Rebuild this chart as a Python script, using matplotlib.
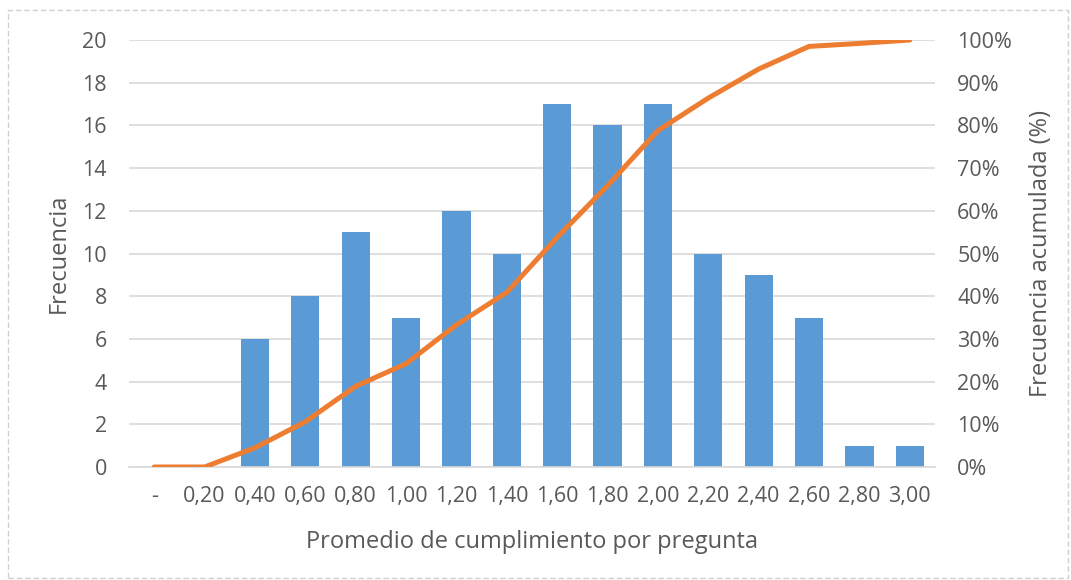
import numpy as np
import matplotlib.pyplot as plt
from matplotlib.patches import Rectangle
from matplotlib.ticker import FuncFormatter

# data
categories = ['-', '0,20', '0,40', '0,60', '0,80', '1,00', '1,20', '1,40',
              '1,60', '1,80', '2,00', '2,20', '2,40', '2,60', '2,80', '3,00']
frecuencia = [0, 0, 6, 8, 11, 7, 12, 10, 17, 16, 17, 10, 9, 7, 1, 1]
acumulada = [0.0, 0.0, 4.5, 10.6, 18.9, 24.2, 33.3, 40.9,
             53.8, 65.9, 78.8, 86.4, 93.2, 98.5, 99.2, 100.0]

bar_color = '#5B9BD5'
line_color = '#ED7D31'
text_color = '#595959'
grid_color = '#D9D9D9'

plt.rcParams.update({
    'font.family': ['Open Sans', 'DejaVu Sans'],
    'font.size': 15,
    'text.color': text_color,
    'axes.labelcolor': text_color,
    'xtick.color': text_color,
    'ytick.color': text_color,
})

fig = plt.figure(figsize=(10.71, 5.8), dpi=100)
ax = fig.add_axes([129/1071, 113/580, 806/1071, 427/580])
ax2 = ax.twinx()

x = np.arange(len(categories))
ax.bar(x, frecuencia, width=0.56, color=bar_color, zorder=2)
ax2.plot(x, acumulada, color=line_color, linewidth=3.6,
         solid_capstyle='round', zorder=3)

ax.set_xlim(-0.5, len(categories) - 0.5)
ax.set_ylim(0, 20)
ax.set_yticks(range(0, 21, 2))
ax2.set_ylim(0, 100)
ax2.set_yticks(range(0, 101, 10))
ax2.yaxis.set_major_formatter(FuncFormatter(lambda v, p: f'{v:.0f}%'))

ax.set_xticks(x)
ax.set_xticklabels(categories)

ax.grid(axis='y', color=grid_color, linewidth=1.2, zorder=0)
ax.set_axisbelow(True)
for a in (ax, ax2):
    for s in a.spines.values():
        s.set_visible(False)
    a.tick_params(length=0, labelsize=15.5)
ax.spines['bottom'].set_visible(True)
ax.spines['bottom'].set_color(grid_color)
ax.spines['bottom'].set_linewidth(1.2)
ax.tick_params(axis='x', pad=14)
ax.tick_params(axis='y', pad=16)
ax2.tick_params(axis='y', pad=16)

ax.set_xlabel('Promedio de cumplimiento por pregunta', fontsize=17, labelpad=16)
ax.set_ylabel('Frecuencia', fontsize=17, labelpad=8)
ax2.set_ylabel('Frecuencia acumulada (%)', fontsize=17, labelpad=12)

# dashed chart-area border
fig.patches.append(Rectangle((8/1071, 2/580), 1060/1071, 568/580,
                             transform=fig.transFigure, fill=False,
                             edgecolor='#D0D0D0', linestyle=(0, (4, 2)),
                             linewidth=1))

fig.savefig('out.png', dpi=100)
